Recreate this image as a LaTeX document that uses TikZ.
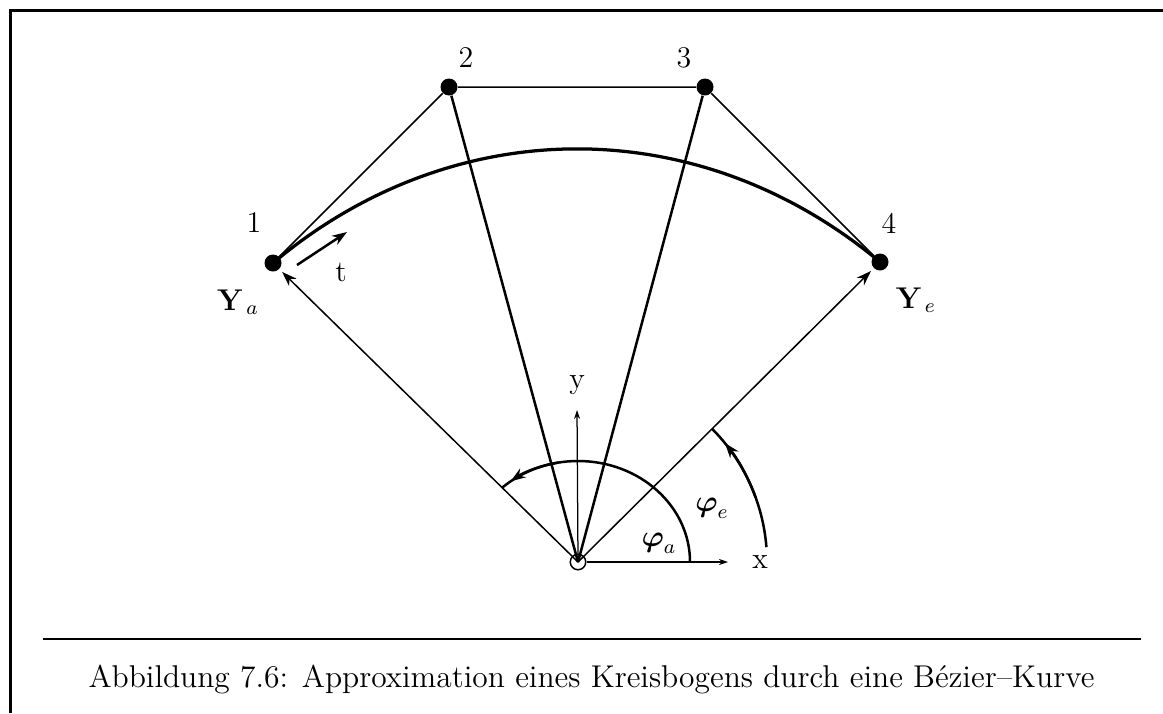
\documentclass[tikz,border=0pt]{standalone}
\usepackage{amsmath}
\usetikzlibrary{arrows.meta,calc}
\begin{document}
\begin{tikzpicture}[x=0.4pt,y=-0.4pt,
  dot/.style={circle,fill=black,inner sep=0pt,minimum size=6.8pt},
  lbl/.style={inner sep=0pt,font=\fontsize{12}{14}\selectfont},
  thinline/.style={line width=0.6pt},
  thickline/.style={line width=1pt},
  bigtip/.style={-{Stealth[length=6pt,width=4.2pt]}},
  smalltip/.style={-{Stealth[length=3.6pt,width=2.4pt]}}]
\useasboundingbox (0,0) rectangle (1163,713);
% frame
\draw[line width=1.2pt] (10,713) -- (10,10) -- (1163,10);
% points
\node[dot] (p1) at (273,263) {};
\node[dot] (p2) at (449,87) {};
\node[dot] (p3) at (705,87) {};
\node[dot] (p4) at (880,262) {};
\node[circle,draw,line width=0.6pt,inner sep=0pt,minimum size=6.2pt] (O) at (578,562) {};
% control polygon
\draw[thinline] (p1) -- (p2) -- (p3) -- (p4);
% bezier curve
\draw[line width=1.3pt] (p1.center) .. controls (454,111) and (699,111) .. (p4.center);
% rays
\draw[thickline] (O.center) -- (p2);
\draw[thickline] (O.center) -- (p3);
\draw[thinline,bigtip,shorten >=1.5pt] (O.center) -- (p1);
\draw[thinline,bigtip,shorten >=1.5pt] (O.center) -- (p4);
% axes
\coordinate (ytip) at (577,410);
\coordinate (xtip) at (728,562);
\draw[line width=0.5pt,smalltip] (O.center) -- (ytip);
\draw[line width=0.5pt,smalltip] (O) -- (xtip);
% inner angle arc
\draw[thickline] ($(O.center)+(0:44.8pt and 40.4pt)$) arc[start angle=0,end angle=132.6,x radius=44.8pt,y radius=40.4pt];
\draw[thickline,bigtip] ($(O.center)+(100:44.8pt and 40.4pt)$) arc[start angle=100,end angle=127,x radius=44.8pt,y radius=40.4pt];
% outer angle arc
\draw[thickline] ($(O.center)+(4.5:75.6pt)$) arc[start angle=4.5,end angle=44.7,radius=75.6pt];
\draw[thickline,bigtip] ($(O.center)+(20:75.6pt)$) arc[start angle=20,end angle=39,radius=75.6pt];
% tangent arrow
\coordinate (ts) at (297,265);
\coordinate (te) at (347,232);
\draw[line width=1pt,bigtip] (ts) -- (te);
% labels
\node[lbl] (l1) at (254,223) {1};
\node[lbl] (l2) at (466,58) {2};
\node[lbl] (l3) at (684,58) {3};
\node[lbl] (l4) at (889,223) {4};
\node[lbl] (Ya) at (238,302) {$\mathbf{Y}_{\,a}$};
\node[lbl] (Ye) at (916,300) {$\mathbf{Y}_{\,e}$};
\node[lbl] (tl) at (341,272) {t};
\node[lbl] (yl) at (577,385) {y};
\node[lbl] (xl) at (760,562) {x};
\node[lbl] (pa) at (659,543) {$\boldsymbol{\varphi}_a$};
\node[lbl] (pe) at (712,508) {$\boldsymbol{\varphi}_e$};
% caption
\draw[line width=1.1pt] (43,639) -- (1141,639);
\node[font=\fontsize{12.6}{15}\selectfont,anchor=base,inner sep=0pt] (cap) at (591.5,687) {Abbildung 7.6: Approximation eines Kreisbogens durch eine Bézier--Kurve};
\end{tikzpicture}
\end{document}
